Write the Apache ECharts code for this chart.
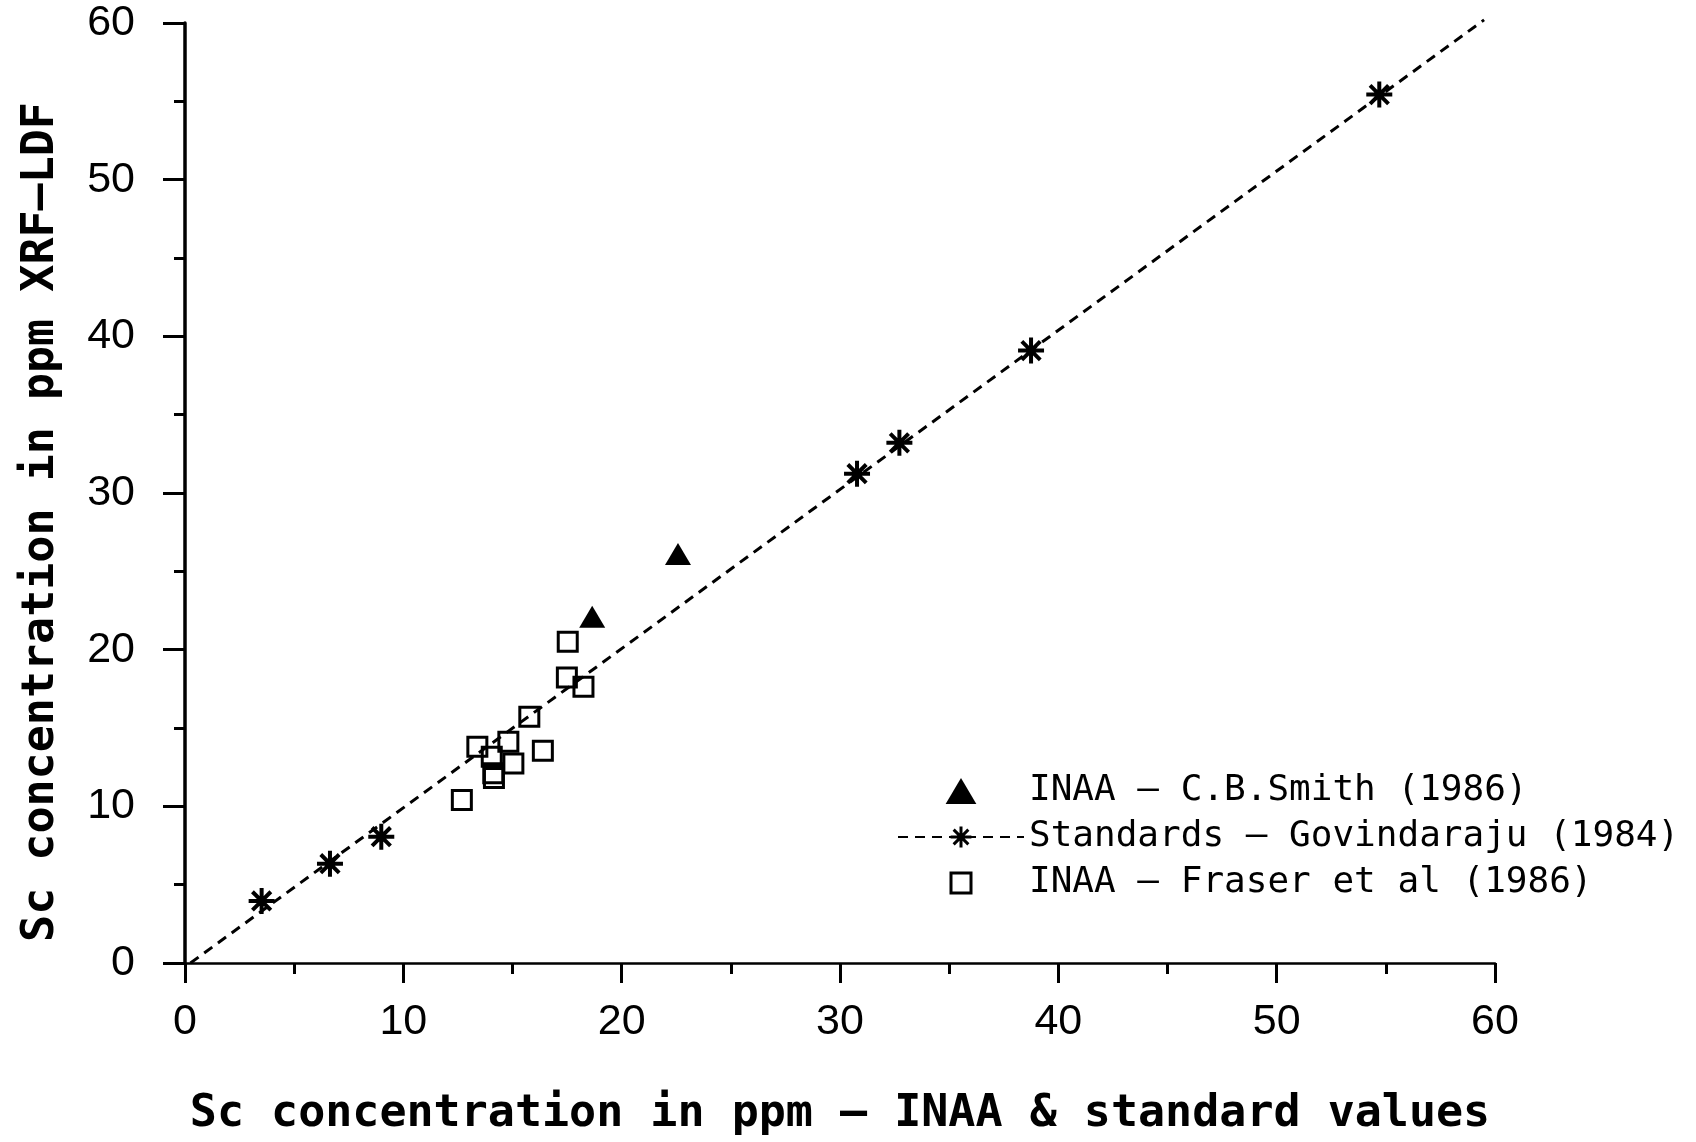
<!DOCTYPE html>
<html>
<head>
<meta charset="utf-8">
<title>Sc concentration: XRF-LDF vs INAA</title>
<script src="https://cdn.jsdelivr.net/npm/echarts@6/dist/echarts.min.js"></script>
<style>
  html, body { margin: 0; padding: 0; background: #fff; }
  #myChart { width: 1696px; height: 1142px; }
</style>
</head>
<body>
<div id="myChart"></div>
<script>
// x = INAA / standard value (ppm), y = XRF-LDF value (ppm)
var smithX = [18.65, 22.58]
var smithY = [22.1, 26.1]

var standardsX = [3.51, 6.64, 8.99, 30.78, 32.72, 38.75, 54.7]
var standardsY = [3.96, 6.34, 8.06, 31.23, 33.2, 39.09, 55.43]

var fraserX = [12.68, 13.39, 14.05, 14.12, 14.15, 14.81, 15.04, 15.77, 16.39, 17.49, 17.53, 18.25]
var fraserY = [10.40, 13.80, 13.17, 12.11, 11.81, 14.12, 12.74, 15.72, 13.55, 18.23, 20.50, 17.63]

// dashed reference line, end points
var lineX = [0.25, 59.5]
var lineY = [0, 60.2]

var axisTicks = [0, 10, 20, 30, 40, 50, 60]

var seriesNames = ['INAA – C.B.Smith (1986)', 'Standards – Govindaraju (1984)', 'INAA – Fraser et al (1986)']

function pairs (xs, ys) {
  return xs.map(function (x, i) { return [x, ys[i]] })
}

var starPath = 'path://M12,0L12,24M0,12L24,12M3.5,3.5L20.5,20.5M3.5,20.5L20.5,3.5'
// legend icons as paths so they keep their aspect
var triIcon = 'path://M0,22L13,0L26,22Z'
var boxIcon = 'path://M0,0M3,3L23,3L23,23L3,23ZM26,26'
var mono = '"DejaVu Sans Mono", monospace'
var sans = '"Liberation Sans", Arial, sans-serif'

function axisBase (lineWidth, tickLen, minorLen, labelMargin) {
  return {
    type: 'value',
    min: axisTicks[0],
    max: axisTicks[axisTicks.length - 1],
    interval: axisTicks[1] - axisTicks[0],
    axisLine: {show: true, lineStyle: {color: '#000', width: lineWidth}},
    axisTick: {show: true, length: tickLen, lineStyle: {color: '#000', width: 3}},
    minorTick: {show: true, splitNumber: 2, length: minorLen, lineStyle: {color: '#000', width: 3}},
    splitLine: {show: false},
    minorSplitLine: {show: false},
    axisLabel: {fontFamily: sans, fontSize: 43, color: '#000', margin: labelMargin}
  }
}

var xAxis = axisBase(2.5, 20, 11, 38)
xAxis.name = 'Sc concentration in ppm – INAA & standard values'
xAxis.nameLocation = 'middle'
xAxis.nameGap = 129
xAxis.nameTextStyle = {fontFamily: mono, fontWeight: 'bold', fontSize: 45, color: '#000'}

var yAxis = axisBase(3.5, 22, 11, 50)

var myChart = echarts.init(document.getElementById('myChart'))
myChart.setOption({
  animation: false,
  backgroundColor: '#fff',
  grid: {left: 185, right: 201, top: 23, bottom: 179, containLabel: false, outerBoundsMode: 'none'},
  xAxis: xAxis,
  yAxis: yAxis,
  legend: {
    orient: 'vertical',
    left: 892,
    top: 767,
    itemWidth: 126,
    itemHeight: 26,
    itemGap: 8,
    selectedMode: false,
    symbolKeepAspect: true,
    data: [
      {name: seriesNames[0], icon: triIcon},
      {name: seriesNames[1]},
      {name: seriesNames[2], icon: boxIcon}
    ],
    itemStyle: {borderWidth: 3},
    textStyle: {fontFamily: mono, fontSize: 36, lineHeight: 38, color: '#000'}
  },
  graphic: [{
    type: 'text',
    x: 41,
    y: 522,
    rotation: Math.PI / 2,
    style: {
      text: 'Sc concentration in ppm XRF–LDF',
      font: 'bold 45px ' + mono,
      fill: '#000',
      align: 'center',
      verticalAlign: 'middle'
    }
  }],
  series: [
    {
      name: seriesNames[0],
      type: 'scatter',
      symbol: 'triangle',
      symbolSize: [26, 22],
      itemStyle: {color: '#000', opacity: 1},
      data: pairs(smithX, smithY)
    },
    {
      name: seriesNames[1],
      type: 'line',
      symbol: starPath,
      showSymbol: false,
      silent: true,
      clip: false,
      lineStyle: {color: '#000', width: 3, type: [10, 7]},
      itemStyle: {color: '#000', borderColor: '#000', borderWidth: 4, opacity: 1},
      data: pairs(lineX, lineY)
    },
    {
      name: seriesNames[1],
      type: 'scatter',
      symbol: starPath,
      symbolSize: 26,
      itemStyle: {color: '#000', borderColor: '#000', borderWidth: 4, opacity: 1},
      data: pairs(standardsX, standardsY)
    },
    {
      name: seriesNames[2],
      type: 'scatter',
      symbol: 'rect',
      symbolSize: 19,
      itemStyle: {color: 'rgba(0,0,0,0)', borderColor: '#000', borderWidth: 3, opacity: 1},
      data: pairs(fraserX, fraserY)
    }
  ]
})
</script>
</body>
</html>
